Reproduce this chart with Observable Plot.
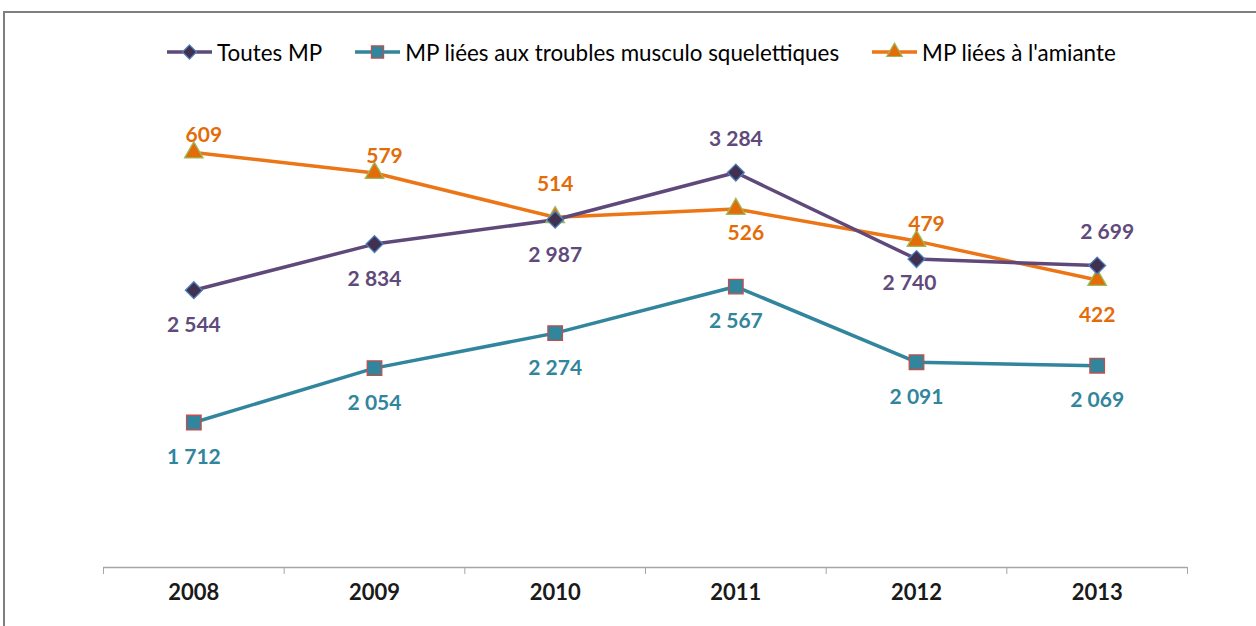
<!DOCTYPE html>
<html>
<head>
<meta charset="utf-8">
<script src="https://cdn.jsdelivr.net/npm/d3@7"></script>
<script src="https://cdn.jsdelivr.net/npm/@observablehq/plot@0.6"></script>
<style>
  html, body { margin: 0; padding: 0; background: #fff; }
  body { width: 1256px; height: 626px; overflow: hidden; position: relative; font-family: Lato, "Open Sans", sans-serif; }
  #frame { position: absolute; left: 3px; top: 11px; width: 1300px; height: 700px;
           border-top: 2.5px solid #7f7f7f; border-left: 2.5px solid #7f7f7f; box-sizing: border-box; pointer-events: none; }
  #legend { height: 80px; box-sizing: border-box; padding-top: 24px; padding-left: 167px;
            display: flex; align-items: center; gap: 33px; font-size: 22.4px; color: #000; }
  .item { display: flex; align-items: center; gap: 5px; white-space: nowrap; }
  .item svg { display: block; }
  #chart svg { display: block; }
</style>
</head>
<body>
<div id="legend"></div>
<div id="chart"></div>
<div id="frame"></div>
<script>
// ---- data ----
const years = ["2008", "2009", "2010", "2011", "2012", "2013"];
const toutesMP = [2544, 2834, 2987, 3284, 2740, 2699];
const tmsMP = [1712, 2054, 2274, 2567, 2091, 2069];
const amianteMP = [609, 579, 514, 526, 479, 422];
const seriesNames = ["Toutes MP", "MP liées aux troubles musculo squelettiques", "MP liées à l'amiante"];
// label placement tokens (relative to each point)
const toutesPlace = ["below", "below", "below", "above", "below near left", "above right"];
const tmsPlace = ["below", "below", "below", "below", "below", "below"];
const amiantePlace = ["above near right", "above near right", "above", "below near right", "above near right", "below"];

// ---- styles ----
const styles = [
  {line: "#5f497a", fill: "#403151", outline: "#4f81bd", text: "#604a7b", symbol: "diamond2", r: 7.6},
  {line: "#31859c", fill: "#31859c", outline: "#c0504d", text: "#31859c", symbol: "square", r: 8.2},
  {line: "#ec7516", fill: "#e36c09", outline: "#9bbb59", text: "#e36c09", symbol: "triangle", r: 6.9}
];

// secondary axis (amiante) [0,700] drawn on the primary [800,3800] range
const primaryDomain = [800, 3800];
const secondaryDomain = [0, 700];
const toPrimary = d3.scaleLinear(secondaryDomain, primaryDomain);

const fmt = v => String(v).replace(/\B(?=(\d{3})+$)/g, " ");

function build(values, places, s, secondary) {
  return values.map((v, i) => ({
    i, value: v, y: secondary ? toPrimary(v) : v, label: fmt(v), place: places[i], s
  }));
}
const data = [
  build(toutesMP, toutesPlace, 0, false),
  build(tmsMP, tmsPlace, 1, false),
  build(amianteMP, amiantePlace, 2, true)
];

function dyOf(place) {
  const near = place.includes("near");
  if (place.includes("above")) return near ? -17 : -33;
  return near ? 24 : 35;
}
function dxOf(place) {
  if (place.includes("right")) return 10;
  if (place.includes("left")) return -7;
  return 0;
}

const marks = [
  Plot.ruleY([primaryDomain[0]], {stroke: "#a6a6a6", strokeWidth: 1.5}),
  Plot.axisX({ticks: d3.range(-0.5, 6, 1), tickSize: 7, tickFormat: () => "", stroke: "#a6a6a6", label: null}),
  Plot.axisX({ticks: d3.range(6), tickSize: 0, tickPadding: 17, tickFormat: i => years[i], label: null,
              fontSize: 22, fontWeight: "bold", fill: "#1a1a1a"})
];
// draw order: amiante below, then others
[2, 0, 1].forEach(k => {
  const st = styles[k];
  marks.push(Plot.line(data[k], {x: "i", y: "y", stroke: st.line, strokeWidth: 3.5}));
});
[2, 0, 1].forEach(k => {
  const st = styles[k];
  marks.push(Plot.dot(data[k], {x: "i", y: "y", symbol: st.symbol, r: st.r, fill: st.fill,
                                stroke: st.outline, strokeWidth: 1.3}));
});
[0, 1, 2].forEach(k => {
  const st = styles[k];
  data[k].forEach(d => {
    marks.push(Plot.text([d], {x: "i", y: "y", text: "label", fill: st.text, fontSize: 21,
                              fontWeight: "bold", dx: dxOf(d.place), dy: dyOf(d.place)}));
  });
});

const chart = Plot.plot({
  width: 1256,
  height: 546,
  marginTop: 10,
  marginBottom: 59,
  marginLeft: 103,
  marginRight: 69,
  x: {type: "linear", domain: [-0.5, 5.5], label: null},
  y: {domain: primaryDomain, axis: null},
  style: {fontFamily: "Lato, 'Open Sans', sans-serif", background: "transparent", overflow: "visible"},
  marks
});
document.getElementById("chart").appendChild(chart);

// legend
const legend = document.getElementById("legend");
seriesNames.forEach((name, k) => {
  const st = styles[k];
  const item = document.createElement("div");
  item.className = "item";
  const svg = d3.create("svg").attr("width", 45).attr("height", 20);
  svg.append("line").attr("x1", 0).attr("x2", 45).attr("y1", 10).attr("y2", 10)
     .attr("stroke", st.line).attr("stroke-width", 3.5);
  const size = Math.PI * st.r * st.r * 0.7;
  const sym = {diamond2: d3.symbolDiamond2, square: d3.symbolSquare, triangle: d3.symbolTriangle}[st.symbol];
  svg.append("path").attr("transform", "translate(22.5,10)")
     .attr("d", d3.symbol(sym, size)())
     .attr("fill", st.fill).attr("stroke", st.outline).attr("stroke-width", 1.2);
  item.appendChild(svg.node());
  const span = document.createElement("span");
  span.textContent = name;
  item.appendChild(span);
  legend.appendChild(item);
});
</script>
</body>
</html>
